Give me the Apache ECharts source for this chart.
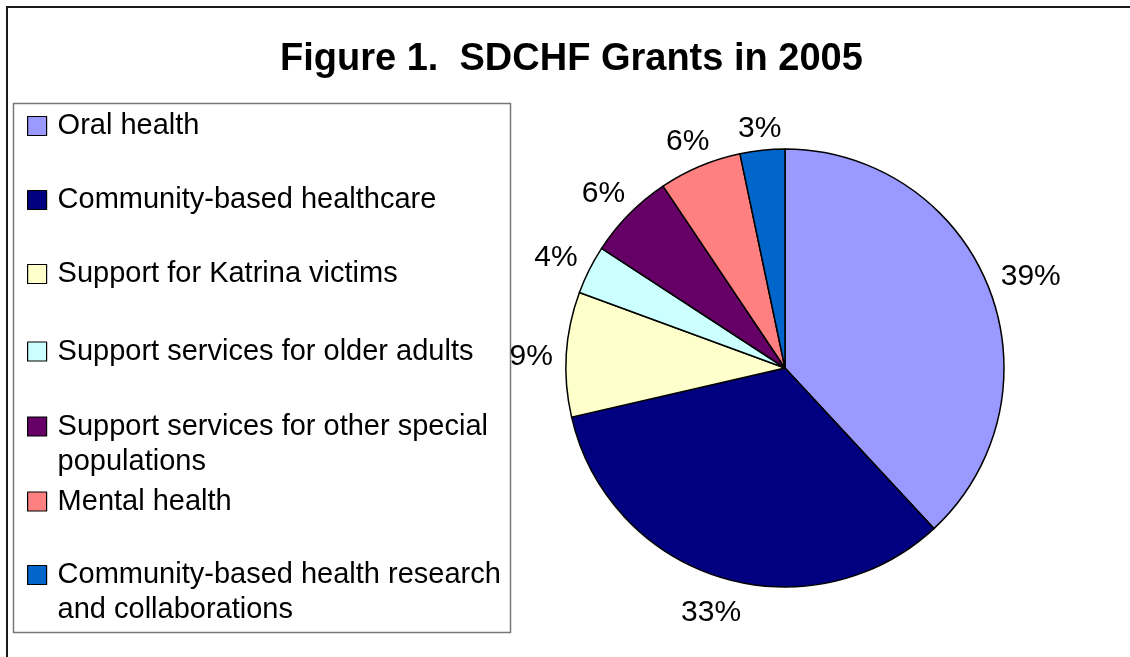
<!DOCTYPE html>
<html>
<head>
<meta charset="utf-8">
<title>SDCHF Grants in 2005</title>
<script src="https://cdn.jsdelivr.net/npm/echarts@6/dist/echarts.min.js"></script>
<style>
  html, body { margin: 0; padding: 0; background: #fff; }
  #chart { width: 1130px; height: 657px; }
</style>
</head>
<body>
<div id="chart"></div>
<script>
// grant categories, clockwise from 12 o'clock
const categories = [
  'Oral health',
  'Community-based healthcare',
  'Support for Katrina victims',
  'Support services for older adults',
  'Support services for other special populations',
  'Mental health',
  'Community-based health research and collaborations'
];
// how the legend wraps the long names
const legendLines = [
  'Oral health',
  'Community-based healthcare',
  'Support for Katrina victims',
  'Support services for older adults',
  'Support services for other special\npopulations',
  'Mental health',
  'Community-based health research\nand collaborations'
];
// share of grants
const grantShares = [38.1, 33.3, 9.2, 3.6, 6.4, 6.1, 3.3];
// percentages as printed on the chart
const pctLabels = ['39%', '33%', '9%', '4%', '6%', '6%', '3%'];
const sliceColors = ['#9999FF', '#000080', '#FFFFCC', '#CCFFFF', '#660066', '#FF8080', '#0066CC'];

const FONT = '"Liberation Sans", Arial, Helvetica, sans-serif';
const pieX = 785, pieY = 368, pieR = 219;
// vertical centre of the first text line of each legend entry
const legendRows = [126, 200, 274, 351.5, 426.5, 501.5, 575];

const total = grantShares.reduce((a, b) => a + b, 0);
function midAngle(i) {
  let before = 0;
  for (let k = 0; k < i; k++) before += grantShares[k];
  return (before + grantShares[i] / 2) / total * Math.PI * 2;
}

let legends = categories.map((name, i) => {
  let twoLines = legendLines[i].indexOf('\n') >= 0;
  return {
    data: [name],
    orient: 'vertical',
    left: 27,
    top: legendRows[i] - 17.5,
    padding: 0,
    selectedMode: false,
    itemWidth: 19,
    itemHeight: twoLines ? 54 : 19,
    // tall items keep the square level with the first line
    icon: twoLines ? 'path://M0,0H19V19H0ZM0,54' : 'rect',
    itemStyle: { borderColor: '#000', borderWidth: 1.2 },
    formatter: () => legendLines[i],
    textStyle: {
      fontFamily: FONT,
      fontSize: 29,
      lineHeight: 35,
      color: '#000',
      padding: [0, 0, 0, 6]
    }
  };
});

let myChart = echarts.init(document.getElementById('chart'));
let option = {
  backgroundColor: '#fff',
  animation: false,
  title: {
    text: 'Figure 1.  SDCHF Grants in 2005',
    left: 280,
    top: 41,
    padding: 0,
    textStyle: {
      fontFamily: FONT,
      fontSize: 38,
      fontWeight: 'bold',
      color: '#000'
    }
  },
  graphic: [
    {
      type: 'rect',
      shape: { x: 7, y: 7, width: 1200, height: 700 },
      style: { fill: 'none', stroke: '#1a1a1a', lineWidth: 2 },
      silent: true
    },
    {
      type: 'rect',
      shape: { x: 13.5, y: 103.5, width: 497, height: 529 },
      style: { fill: 'none', stroke: '#777', lineWidth: 1.5 },
      silent: true
    }
  ],
  legend: legends,
  series: [
    {
      name: 'SDCHF Grants 2005',
      type: 'pie',
      center: [pieX, pieY],
      radius: pieR,
      startAngle: 90,
      clockwise: true,
      avoidLabelOverlap: false,
      color: sliceColors,
      itemStyle: { borderColor: '#000', borderWidth: 1.5 },
      emphasis: { disabled: true },
      label: {
        show: true,
        position: 'outside',
        formatter: p => pctLabels[p.dataIndex],
        fontFamily: FONT,
        fontSize: 30,
        color: '#000'
      },
      labelLine: { show: false },
      labelLayout: function (params) {
        let a = midAngle(params.dataIndex);
        let ux = Math.sin(a), uy = -Math.cos(a);
        let w = params.labelRect.width, h = 22;
        let d = pieR + 13 + Math.abs(ux) * w / 2 + Math.abs(uy) * h / 2;
        return { x: pieX + ux * d, y: pieY + uy * d + 5, align: 'center', verticalAlign: 'middle' };
      },
      data: categories.map((name, i) => ({ name: name, value: grantShares[i] }))
    }
  ]
};
myChart.setOption(option);
</script>
</body>
</html>
